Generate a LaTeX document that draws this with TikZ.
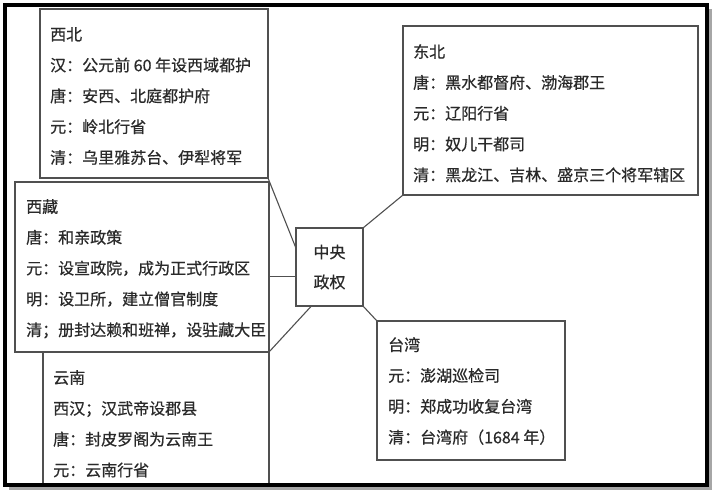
\documentclass[tikz,border=0pt]{standalone}
\usepackage{fontspec}
\setmainfont{Noto Sans CJK SC}[FakeBold=0.6]
\usetikzlibrary{calc}
\definecolor{linegray}{HTML}{505050}
\definecolor{textgray}{HTML}{2A2A2A}
\begin{document}
\begin{tikzpicture}[x=1pt,y=-1pt,
  box/.style={draw=linegray, line width=1.1pt, anchor=north west, inner sep=0pt, outer sep=0pt, fill=white},
  txt/.style={anchor=north west, inner sep=0pt, align=left, text=textgray, font=\fontsize{16}{30.8}\selectfont},
  conn/.style={draw=linegray, line width=1.1pt}]
\useasboundingbox (0,0) rectangle (720,499);
\fill[white] (0,0) rectangle (720,499);
% boxes
\node[box, minimum width=228pt, minimum height=169pt] (xb) at (40,9) {};
\node[box, minimum width=254pt, minimum height=170pt] (xz) at (15,182) {};
\node[box, minimum width=226pt, minimum height=133pt] (yn) at (43,352) {};
\node[box, minimum width=67pt, minimum height=78pt, align=center, text=textgray, font=\fontsize{16}{30}\selectfont] (zy) at (296,228) {中央\\政权};
\node[box, minimum width=295pt, minimum height=169pt] (db) at (403,26) {};
\node[box, minimum width=188pt, minimum height=139pt] (tw) at (377,321) {};
% texts
\node[txt] (t1) at (50,27) {西北\\汉：公元前 60 年设西域都护\\唐：安西、北庭都护府\\元：岭北行省\\清：乌里雅苏台、伊犁将军};
\node[txt] (t2) at (26,199) {西藏\\唐：和亲政策\\元：设宣政院，成为正式行政区\\明：设卫所，建立僧官制度\\清；册封达赖和班禅，设驻藏大臣};
\node[txt] (t3) at (53,370) {云南\\西汉；汉武帝设郡县\\唐：封皮罗阁为云南王\\元：云南行省};
\node[txt] (t4) at (413,44) {东北\\唐：黑水都督府、渤海郡王\\元：辽阳行省\\明：奴儿干都司\\清：黑龙江、吉林、盛京三个将军辖区};
\node[txt] (t5) at (388,337) {台湾\\元：澎湖巡检司\\明：郑成功收复台湾\\清：台湾府（1684 年）};
% connectors
\coordinate (p1) at ($(zy.north west)!0.26!(zy.south west)$);
\coordinate (p2) at ($(zy.north west)!0.62!(zy.south west)$);
\coordinate (p3) at ($(zy.south west)!0.23!(zy.south east)$);
\draw[conn] (xb.south east) -- (p1);
\draw[conn] (p2 -| xz.east) -- (p2);
\draw[conn] (xz.south east) -- (p3);
\draw[conn] (zy.north east) -- (db.south west);
\draw[conn] (zy.south east) -- (tw.north west);
% frame
\draw[black!35, line width=3pt] (710.5,9) -- (710.5,488.5) -- (9,488.5);
\draw[black, line width=4pt] (5,5) rectangle (707,485);
\end{tikzpicture}
\end{document}
